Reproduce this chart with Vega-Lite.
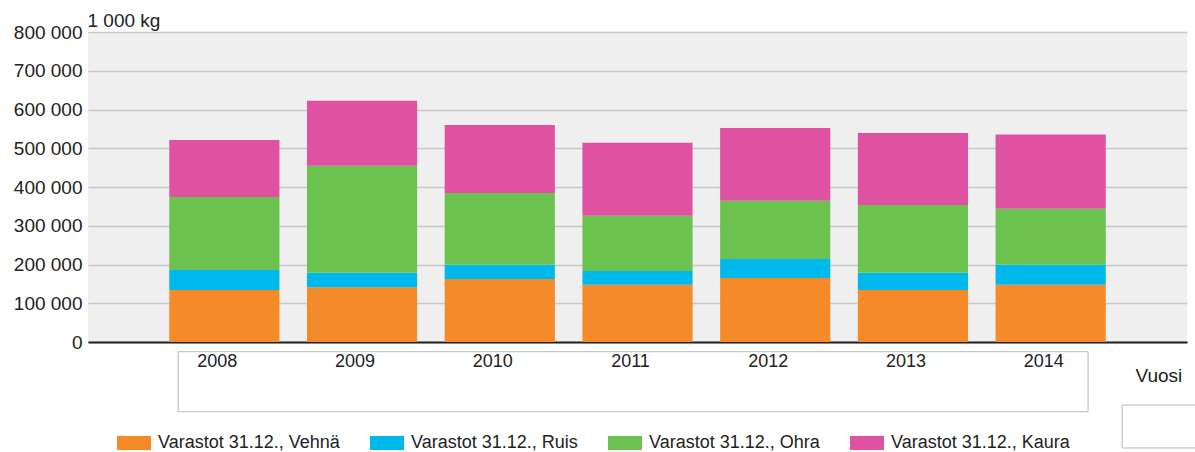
{
  "$schema": "https://vega.github.io/schema/vega-lite/v6.json",
  "width": 1099,
  "height": 310,
  "autosize": {"type": "none"},
  "padding": {"left": 88, "top": 32, "right": 8, "bottom": 110},
  "background": "white",
  "config": {
    "view": {"fill": "#EFEFEF", "stroke": null},
    "font": "Liberation Sans"
  },
  "datasets": {
    "varastot": [
      {"Vuosi": "2008", "Tiedot": "Varastot 31.12., Vehnä", "Määrä": 134200},
      {"Vuosi": "2008", "Tiedot": "Varastot 31.12., Ruis", "Määrä": 51600},
      {"Vuosi": "2008", "Tiedot": "Varastot 31.12., Ohra", "Määrä": 188500},
      {"Vuosi": "2008", "Tiedot": "Varastot 31.12., Kaura", "Määrä": 147100},
      {"Vuosi": "2009", "Tiedot": "Varastot 31.12., Vehnä", "Määrä": 141000},
      {"Vuosi": "2009", "Tiedot": "Varastot 31.12., Ruis", "Määrä": 37900},
      {"Vuosi": "2009", "Tiedot": "Varastot 31.12., Ohra", "Määrä": 276100},
      {"Vuosi": "2009", "Tiedot": "Varastot 31.12., Kaura", "Määrä": 167800},
      {"Vuosi": "2010", "Tiedot": "Varastot 31.12., Vehnä", "Määrä": 162600},
      {"Vuosi": "2010", "Tiedot": "Varastot 31.12., Ruis", "Määrä": 36900},
      {"Vuosi": "2010", "Tiedot": "Varastot 31.12., Ohra", "Määrä": 185000},
      {"Vuosi": "2010", "Tiedot": "Varastot 31.12., Kaura", "Määrä": 175500},
      {"Vuosi": "2011", "Tiedot": "Varastot 31.12., Vehnä", "Määrä": 147900},
      {"Vuosi": "2011", "Tiedot": "Varastot 31.12., Ruis", "Määrä": 35300},
      {"Vuosi": "2011", "Tiedot": "Varastot 31.12., Ohra", "Määrä": 142800},
      {"Vuosi": "2011", "Tiedot": "Varastot 31.12., Kaura", "Määrä": 188400},
      {"Vuosi": "2012", "Tiedot": "Varastot 31.12., Vehnä", "Määrä": 165200},
      {"Vuosi": "2012", "Tiedot": "Varastot 31.12., Ruis", "Määrä": 49000},
      {"Vuosi": "2012", "Tiedot": "Varastot 31.12., Ohra", "Määrä": 150500},
      {"Vuosi": "2012", "Tiedot": "Varastot 31.12., Kaura", "Määrä": 187600},
      {"Vuosi": "2013", "Tiedot": "Varastot 31.12., Vehnä", "Määrä": 134200},
      {"Vuosi": "2013", "Tiedot": "Varastot 31.12., Ruis", "Määrä": 44700},
      {"Vuosi": "2013", "Tiedot": "Varastot 31.12., Ohra", "Määrä": 174700},
      {"Vuosi": "2013", "Tiedot": "Varastot 31.12., Kaura", "Määrä": 185800},
      {"Vuosi": "2014", "Tiedot": "Varastot 31.12., Vehnä", "Määrä": 147900},
      {"Vuosi": "2014", "Tiedot": "Varastot 31.12., Ruis", "Määrä": 51600},
      {"Vuosi": "2014", "Tiedot": "Varastot 31.12., Ohra", "Määrä": 144500},
      {"Vuosi": "2014", "Tiedot": "Varastot 31.12., Kaura", "Määrä": 191800}
    ]
  },
  "layer": [
    {
      "data": {"name": "varastot"},
      "mark": {"type": "bar"},
      "encoding": {
        "x": {
          "field": "Vuosi",
          "type": "nominal",
          "scale": {"paddingInner": 0.2, "paddingOuter": 0.59},
          "axis": {
            "title": "Vuosi",
            "labelAngle": 0,
            "ticks": false,
            "grid": false,
            "domainColor": "#222222",
            "domainWidth": 2,
            "labelFontSize": 18,
            "labelColor": "#222222",
            "labelPadding": 10,
            "labelOffset": -7,
            "titleX": 1047,
            "titleY": 39,
            "titleAlign": "left",
            "titleBaseline": "alphabetic",
            "titleFontWeight": "normal",
            "titleFontSize": 19,
            "titleColor": "#222222"
          }
        },
        "y": {
          "field": "Määrä",
          "type": "quantitative",
          "scale": {"domain": [0, 800000], "nice": false},
          "axis": {
            "title": "1 000 kg",
            "titleAngle": 0,
            "titleX": -1,
            "titleY": -6,
            "titleAlign": "left",
            "titleBaseline": "alphabetic",
            "titleFontWeight": "normal",
            "titleFontSize": 19,
            "titleColor": "#222222",
            "domain": false,
            "ticks": false,
            "tickCount": 8,
            "labelFontSize": 19,
            "labelColor": "#222222",
            "labelPadding": 6,
            "labelExpr": "replace(format(datum.value, ','), ',', ' ')",
            "gridColor": "#C8C8C8",
            "gridWidth": 1.5
          }
        },
        "color": {
          "field": "Tiedot",
          "type": "nominal",
          "sort": ["Varastot 31.12., Vehnä", "Varastot 31.12., Ruis", "Varastot 31.12., Ohra", "Varastot 31.12., Kaura"],
          "scale": {
            "domain": ["Varastot 31.12., Vehnä", "Varastot 31.12., Ruis", "Varastot 31.12., Ohra", "Varastot 31.12., Kaura"],
            "range": ["#F58A29", "#00B9EC", "#6CC24F", "#DF52A1"]
          },
          "legend": {
            "orient": "none",
            "legendX": 29,
            "legendY": 394,
            "direction": "horizontal",
            "columns": 4,
            "title": null,
            "padding": 0,
            "symbolType": "M-1,-0.41H1V0.41H-1Z",
            "symbolSize": 1156,
            "symbolStrokeWidth": 0,
            "symbolOpacity": 1,
            "labelFontSize": 18,
            "labelLimit": 400,
            "labelColor": "#222222",
            "labelOffset": 7,
            "columnPadding": 30
          }
        }
      }
    },
    {
      "data": {"values": [{}]},
      "mark": {"type": "rect", "fill": "transparent", "stroke": "#B8B8B8", "strokeWidth": 1},
      "encoding": {
        "x": {"datum": 0.082, "type": "quantitative", "scale": {"domain": [0, 1]}, "axis": null},
        "x2": {"datum": 0.91},
        "y": {"datum": -25000, "type": "quantitative", "scale": {"domain": [0, 800000], "nice": false}, "axis": null},
        "y2": {"datum": -180000}
      }
    },
    {
      "data": {"values": [{}]},
      "mark": {"type": "rect", "fill": "transparent", "stroke": "#B8B8B8", "strokeWidth": 1},
      "encoding": {
        "x": {"datum": 0.941, "type": "quantitative", "scale": {"domain": [0, 1]}, "axis": null},
        "x2": {"datum": 1.02},
        "y": {"datum": -162600, "type": "quantitative", "scale": {"domain": [0, 800000], "nice": false}, "axis": null},
        "y2": {"datum": -273500}
      }
    }
  ],
  "resolve": {"scale": {"x": "independent"}, "axis": {"x": "independent", "y": "independent"}}
}
